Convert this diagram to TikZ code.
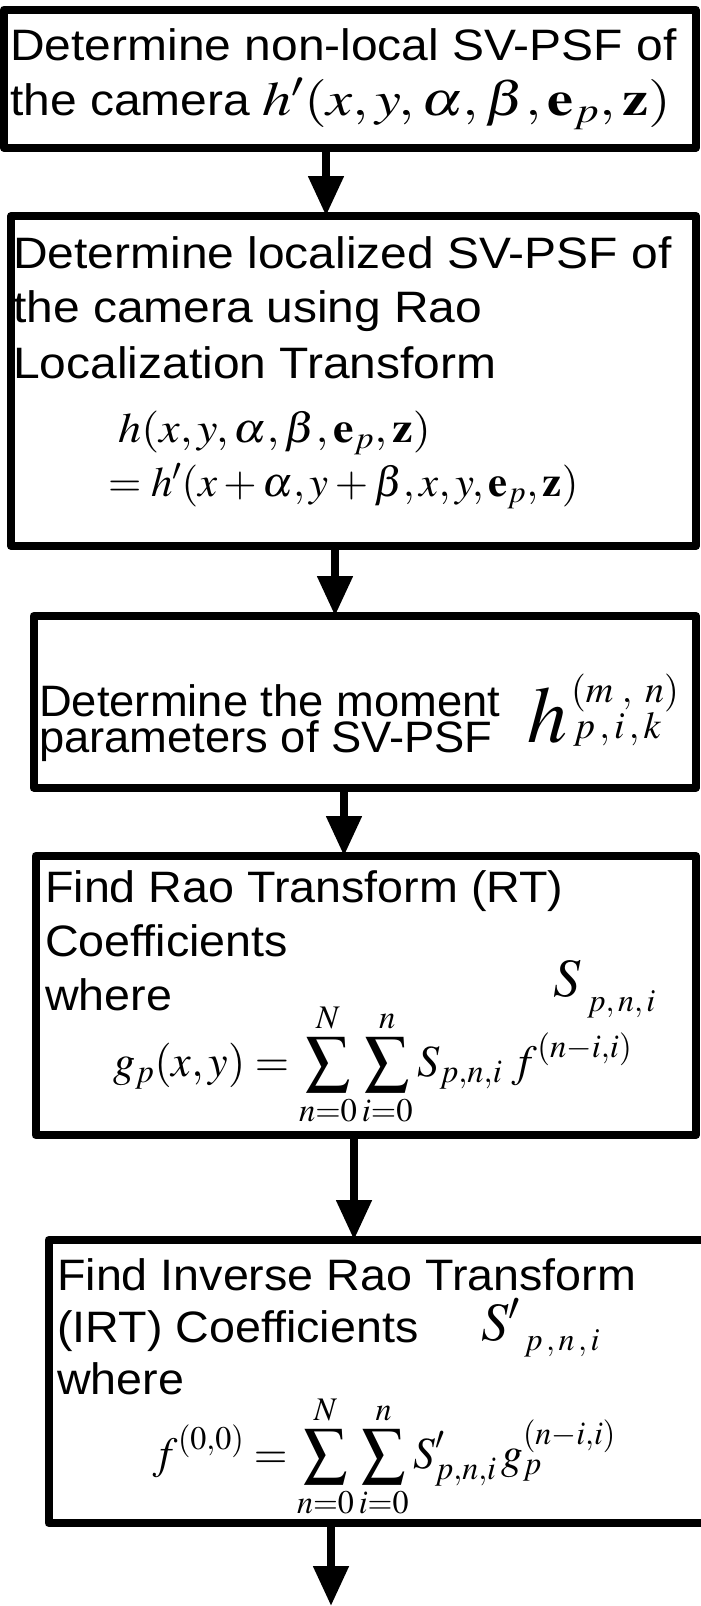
\documentclass[tikz,border=0pt]{standalone}
\usepackage{mathptmx}
\usepackage[no-math]{fontspec}
\setmainfont{Liberation Sans}
\usepackage{graphicx}
\usetikzlibrary{arrows.meta}
\newcommand{\hst}[1]{\scalebox{1.06}[1]{#1}}
\newcommand{\hwide}[1]{\scalebox{1.09}[1]{#1}}
\newcommand{\hnar}[1]{\scalebox{1.03}[1]{#1}}
\begin{document}
\begin{tikzpicture}[x=1pt,y=-1pt,
  box/.style={draw, line width=8pt, rectangle, inner sep=0pt, outer sep=0pt, line join=round},
  txt/.style={anchor=base west, inner sep=0pt, font=\fontsize{44}{48}\selectfont},
  mth/.style={anchor=base west, inner sep=0pt, font=\fontsize{42}{46}\selectfont},
  arr/.style={line width=8pt, -{Triangle[length=40pt,width=34pt]}}]
\useasboundingbox (0,0) rectangle (701,1606);
% boxes
\node[box, minimum width=691.5pt, minimum height=138.5pt] (b1) at (349.75,78.75) {};
\node[box, minimum width=685pt, minimum height=330pt] (b2) at (353.5,381) {};
\node[box, minimum width=662.5pt, minimum height=171.5pt] (b3) at (364.75,701.75) {};
\node[box, minimum width=660.5pt, minimum height=279pt] (b4) at (365.75,995.5) {};
\node[box, minimum width=657.5pt, minimum height=283pt] (b5) at (377.25,1381.5) {};
% box 1
\node[txt] (t1a) at (10,60) {\hwide{Determine non-local SV-PSF of}};
\node[txt] (t1b) at (10,115) {\hwide{the camera}};
\node[mth, font=\fontsize{48}{50}\selectfont] (m1) at (262,115) {\scalebox{1.22}[1]{$h'(x,y,\alpha,\beta,\mathbf{e}_p,\mathbf{z})$}};
% box 2
\node[txt] (t2a) at (13,268) {\hwide{Determine localized SV-PSF of}};
\node[txt] (t2b) at (13,322) {\hwide{the camera using Rao}};
\node[txt] (t2c) at (13,378) {\hwide{Localization Transform}};
\node[mth] (m2a) at (118,442) {\scalebox{1.1}[1]{$h(x,y,\alpha,\beta,\mathbf{e}_p,\mathbf{z})$}};
\node[mth] (m2b) at (108,496) {\scalebox{1.02}[1]{$=h'(x+\alpha,y+\beta,x,y,\mathbf{e}_p,\mathbf{z})$}};
% box 3
\node[txt] (t3a) at (39,716) {\hnar{Determine the moment}};
\node[txt] (t3b) at (39,752) {\hnar{parameters of SV-PSF}};
\node[mth, font=\fontsize{80}{82}\selectfont] (m3) at (527,742) {$h$};
\node[mth, font=\fontsize{38}{40}\selectfont] (m3s) at (571,702) {$(m\;,\;n)$};
\node[mth, font=\fontsize{38}{40}\selectfont] (m3i) at (573,738) {$p\,,i\,,k$};
% box 4
\node[txt] (t4a) at (45,902) {\hst{Find Rao Transform (RT)}};
\node[txt] (t4b) at (45,956) {\hst{Coefficients}};
\node[txt] (t4c) at (45,1010) {\hst{where}};
\node[mth, font=\fontsize{54}{56}\selectfont] (m4a) at (553,996) {$S$};
\node[mth, font=\fontsize{32}{34}\selectfont] (m4s) at (587,1011) {$p,n,i$};
\node[mth] (m4b) at (113,1076) {\scalebox{1.05}[1.06]{$\displaystyle g_p(x,y)=\sum_{n=0}^{N}\sum_{i=0}^{n}S_{p,n,i}\;f^{(n-i,i)}$}};
% box 5
\node[txt] (t5a) at (57,1290) {\hst{Find Inverse Rao Transform}};
\node[txt] (t5b) at (57,1342) {\hst{(IRT) Coefficients}};
\node[txt] (t5c) at (57,1394) {\hst{where}};
\node[mth, font=\fontsize{54}{56}\selectfont] (m5a) at (481,1340) {$S'$};
\node[mth, font=\fontsize{32}{34}\selectfont] (m5s) at (524,1350) {$p\,,n\,,i$};
\node[mth] (m5b) at (153,1468) {\scalebox{1.03}[1.06]{$\displaystyle f^{(0,0)}=\sum_{n=0}^{N}\sum_{i=0}^{n}S'_{p,n,i}\,g_p^{(n-i,i)}$}};
% arrows
\coordinate (x1) at (326,0);
\coordinate (x2) at (335,0);
\coordinate (x3) at (344,0);
\coordinate (x4) at (354,0);
\coordinate (x5) at (331,0);
\coordinate (endpt) at (331,1606);
\draw[arr] (b1.south -| x1) -- (b2.north -| x1);
\draw[arr] (b2.south -| x2) -- (b3.north -| x2);
\draw[arr] (b3.south -| x3) -- (b4.north -| x3);
\draw[arr] (b4.south -| x4) -- (b5.north -| x4);
\draw[arr] (b5.south -| x5) -- (endpt);
\end{tikzpicture}
\end{document}
